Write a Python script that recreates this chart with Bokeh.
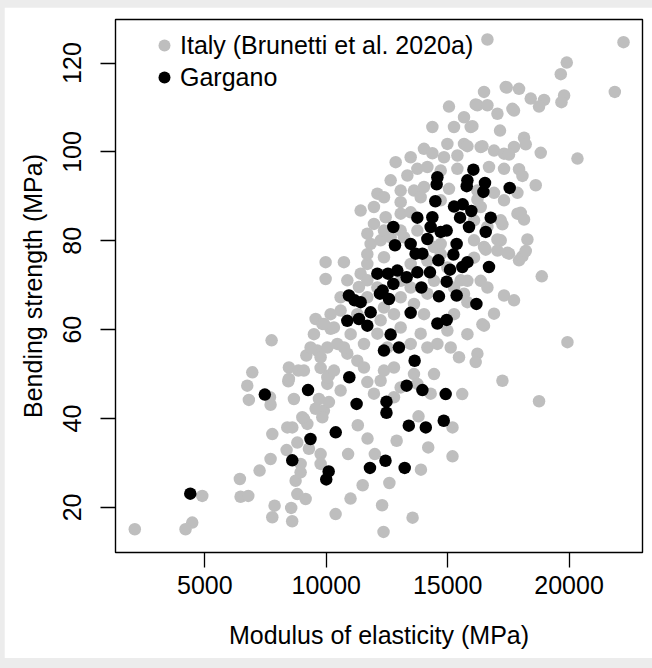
from bokeh.plotting import figure
from bokeh.models import Range1d, Legend, LegendItem, FixedTicker
from bokeh.embed import file_html
from bokeh.resources import INLINE

# ---- data ----
italy_moe = [
    9974, 9974, 9562, 9838, 10180, 7749, 9179, 9632, 10044, 8462, 8849, 6953, 8437, 9768, 10110,
    6747, 6813, 7679, 7707, 8668, 10044, 9698, 9904, 9080, 8602, 7778, 9220, 8808, 8367, 9286,
    9768, 7707, 7254, 6442, 6471, 6789, 4893, 7872, 8556, 7778, 8597, 4481, 4205, 2115, 8808,
    9150, 8738, 8944, 9768, 8944, 10110, 9838, 10386, 8396, 9014, 9562, 8462,
    17392, 16498, 16225, 16637, 15055, 17050, 14371, 15674, 15261, 15950, 17157, 17734, 12859, 14025, 14371,
    14989, 15674, 16361, 16910, 17322, 17734, 14849, 15401, 13341, 13753, 14165, 15401, 16704, 17322, 13065,
    12105, 13613, 14025, 15055, 17322, 17874, 11416, 11964, 13065, 12447, 13065, 13477, 11692, 11828, 12240,
    12377, 13065, 12377, 11692, 11416, 14714, 16086, 16498, 17186, 17050, 17528, 17940, 16637, 10728, 10868,
    11347, 11692, 13065, 13613, 14165, 15537, 15674, 15813, 17322, 17734, 16910, 16498, 9904, 10316, 10592,
    12240, 12105, 13065, 13889, 14165, 14577, 14989, 9356, 10456, 10868, 9768, 11280, 11553, 12377, 12789,
    13613, 15468, 16225, 16155, 17256, 9080, 10044, 11692, 12240, 13065, 13753, 14301, 10592, 11964, 12789,
    16637, 22243, 19906, 19659, 21884, 19796, 19687, 17433, 17940, 18422, 18970, 18764, 16155, 17668, 16019,
    18146, 18216, 18834, 20347, 15813, 16431, 17528, 17940, 18080, 18628, 17874, 16910, 16225, 18010, 18146,
    17256, 18286, 17050, 16568, 17462, 18080, 18216, 16086, 18876, 16431, 19934, 18764,
    11966, 12653, 13202, 13752, 14439, 13477, 14164, 14714, 14988, 11691, 12104, 12790, 13477, 14439, 15263,
    13065, 11279, 12378, 11691, 10592, 10180, 11005, 11554, 12516, 13477, 15263, 15813, 16087, 16362, 14714,
    13890, 12378, 12653, 13477, 14714, 16225, 17186, 16362, 16637, 14027, 10730, 9493, 10318, 14439, 15126,
    15813,
    12359, 13556, 11300, 11700, 12000, 12900, 13800, 14200, 15200, 15600, 12600, 11500, 13900, 12300, 15200,
    10900, 11000,
]
italy_mor = [
    75.2, 71.4, 62.4, 61.3, 60.2, 57.6, 54.2, 55.3, 56.0, 51.5, 50.8, 50.4, 48.4, 51.4, 49.7,
    47.4, 44.2, 44.8, 43.1, 44.4, 47.8, 44.4, 41.8, 39.9, 38.0, 36.5, 38.8, 34.6, 32.9, 33.2,
    32.0, 30.9, 28.3, 26.4, 22.4, 22.6, 22.6, 20.4, 19.9, 17.8, 16.9, 16.6, 15.1, 15.1, 23.0,
    21.9, 26.0, 27.9, 29.8, 29.8, 43.7, 40.3, 18.5, 38.0, 40.3, 42.2, 48.9,
    114.6, 113.5, 110.5, 110.5, 110.2, 108.6, 105.6, 107.8, 105.6, 105.6, 104.8, 109.3, 97.7, 100.7, 99.7,
    101.8, 101.8, 101.1, 100.3, 99.6, 101.1, 98.8, 99.2, 94.7, 96.2, 96.6, 96.2, 96.6, 96.2, 91.3,
    90.6, 91.3, 92.1, 91.7, 89.1, 86.1, 86.8, 87.6, 88.7, 85.3, 86.1, 86.4, 81.6, 79.3, 80.1,
    82.3, 82.3, 76.3, 74.8, 72.6, 79.3, 80.1, 78.6, 80.1, 77.8, 77.1, 75.6, 83.1, 75.2, 71.1,
    69.6, 71.1, 67.3, 65.8, 68.1, 71.1, 68.1, 66.2, 67.7, 66.6, 63.6, 60.9, 61.3, 60.5, 64.3,
    62.1, 59.1, 60.5, 59.1, 56.0, 56.8, 59.8, 56.0, 56.8, 54.6, 53.8, 53.0, 51.5, 50.8, 51.5,
    50.0, 53.8, 54.6, 52.7, 48.5, 50.8, 49.3, 48.2, 48.5, 47.0, 47.8, 45.6, 46.3, 45.6, 44.8,
    125.3, 124.7, 120.1, 117.5, 113.5, 112.7, 111.2, 114.5, 114.2, 112.0, 111.7, 110.2, 110.7, 109.7, 105.8,
    103.2, 101.7, 99.8, 98.5, 101.3, 101.3, 99.4, 96.1, 94.6, 92.5, 90.8, 90.8, 89.3, 86.3, 84.8,
    83.7, 80.3, 80.3, 78.0, 77.3, 76.5, 77.7, 76.2, 72.0, 61.2, 57.2, 43.9,
    83.8, 80.8, 80.8, 82.3, 78.6, 74.8, 75.5, 77.0, 74.0, 77.0, 69.5, 63.5, 69.5, 71.0, 69.5,
    71.0, 63.5, 65.0, 67.3, 67.3, 63.5, 59.0, 56.8, 56.0, 56.8, 63.5, 71.0, 84.6, 87.6, 89.1,
    89.8, 89.8, 93.6, 98.8, 95.8, 91.3, 84.6, 71.0, 69.5, 63.5, 56.0, 59.0, 50.8, 50.0, 56.0,
    59.0,
    14.5, 17.7, 38.5, 35.5, 32.0, 35.0, 40.5, 33.5, 31.5, 45.5, 25.5, 25.0, 28.5, 20.5, 38.0,
    32.0, 22.0,
]

gargano_moe = [
    4400, 7470, 9250, 9350, 8600, 10100, 10000, 10390,
    11250, 12480, 12480, 14840, 14100, 13400, 12440, 13230, 11800,
    16060, 14577, 14548, 15813, 16538, 16472, 17556, 14494, 15263, 15620, 15976, 16773, 16568, 15880,
    15510, 14370, 13752, 14300, 14713, 14960, 14165, 12763, 12830, 13476, 13680, 13960, 15370, 15237,
    14618, 15813, 15607, 16703, 12104, 12541, 12928, 13311, 13752, 14272, 15098, 12763, 12323, 12582,
    12210, 13918, 14960, 14643, 15370, 16184, 10934, 11169, 11416, 11828, 13476, 10867, 11346, 11692,
    14577, 14960, 12652, 12376, 12994, 13640, 10950, 13311, 13960, 14919, 15785,
]
gargano_mor = [
    23.1, 45.4, 46.4, 35.4, 30.6, 28.1, 26.3, 36.9,
    43.3, 43.8, 41.3, 39.5, 38.0, 38.4, 30.5, 28.9, 28.9,
    96.0, 94.3, 92.7, 93.6, 93.0, 91.0, 91.9, 88.9, 87.7, 88.2, 86.7, 85.2, 82.0, 83.1,
    85.2, 85.3, 85.2, 83.1, 82.0, 82.3, 80.4, 83.1, 79.0, 79.3, 77.1, 77.1, 79.3, 76.9,
    75.6, 75.2, 74.1, 74.1, 72.6, 72.6, 73.3, 71.8, 72.9, 72.9, 73.5, 70.3, 68.8, 66.9,
    68.1, 69.5, 70.8, 67.5, 67.7, 65.8, 67.7, 66.6, 66.2, 63.9, 63.8, 62.0, 62.4, 60.9,
    61.4, 62.2, 58.9, 55.3, 56.0, 53.0, 49.3, 47.4, 46.4, 45.5, 92.3,
]

x_ticks = [5000, 10000, 15000, 20000]
y_ticks = [20, 40, 60, 80, 100, 120]
legend_labels = ["Italy (Brunetti et al. 2020a)", "Gargano"]
gray = "#bebebe"
FONT = "Liberation Sans"

p = figure(width=648, height=651, output_backend="svg", toolbar_location=None,
           x_range=Range1d(1320, 23025), y_range=Range1d(9.86, 129.8),
           min_border_left=111, min_border_right=10, min_border_top=12, min_border_bottom=106)
p.margin = (7, 0, 0, 4)
p.background_fill_color = "white"
p.border_fill_color = "white"
p.outline_line_color = "black"
p.outline_line_width = 1.4
p.grid.visible = False

p.scatter(italy_moe, italy_mor, size=12.5, color=gray, line_color=None)
p.scatter(gargano_moe, gargano_mor, size=12.5, color="black", line_color=None)

for ax, ticks in ((p.xaxis[0], x_ticks), (p.yaxis[0], y_ticks)):
    ax.ticker = FixedTicker(ticks=ticks)
    ax.axis_line_color = None
    ax.major_tick_out = 15
    ax.major_tick_in = 0
    ax.major_tick_line_width = 1.3
    ax.major_tick_line_color = "black"
    ax.minor_tick_line_color = None
    ax.major_label_text_font = FONT
    ax.major_label_text_font_size = "25px"
    ax.major_label_text_color = "black"
    ax.axis_label_text_font = FONT
    ax.axis_label_text_font_size = "25px"
    ax.axis_label_text_font_style = "normal"
    ax.axis_label_text_color = "black"

p.xaxis[0].axis_label = "Modulus of elasticity (MPa)"
p.yaxis[0].axis_label = "Bending strength (MPa)"
p.xaxis[0].major_label_standoff = 8
p.yaxis[0].major_label_standoff = 19
p.yaxis[0].major_label_orientation = "vertical"
p.xaxis[0].axis_label_standoff = 24
p.yaxis[0].axis_label_standoff = 14

nan = float("nan")
lg_i = p.scatter([nan], [nan], size=12, color=gray, line_color=None)
lg_g = p.scatter([nan], [nan], size=12, color="black", line_color=None)
legend = Legend(items=[LegendItem(label=legend_labels[0], renderers=[lg_i], index=0),
                       LegendItem(label=legend_labels[1], renderers=[lg_g], index=0)],
                location=(34, 459), margin=0, padding=0, spacing=0,
                glyph_width=30, glyph_height=32, label_height=32, label_standoff=1,
                label_text_font=FONT, label_text_font_size="25px", label_text_color="black",
                border_line_color=None, background_fill_alpha=0)
p.add_layout(legend, "center")

html = file_html(p, INLINE)
html = html.replace("</head>", "<style>html, body { margin: 0; background-color: #ececec; }</style>\n</head>", 1)
open("out.html", "w").write(html)
